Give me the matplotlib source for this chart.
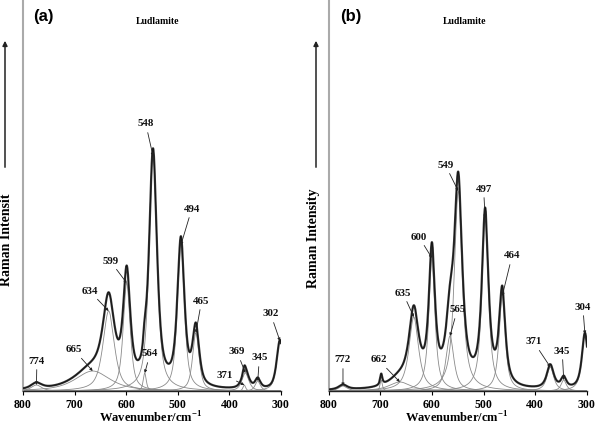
import numpy as np
import matplotlib
matplotlib.use("Agg")
import matplotlib.pyplot as plt

plt.rcParams['font.family'] = ['Liberation Serif', 'DejaVu Serif']
plt.rcParams['mathtext.fontset'] = 'custom'
plt.rcParams['mathtext.rm'] = 'Liberation Serif:bold'
plt.rcParams['mathtext.bf'] = 'Liberation Serif:bold'

# ---------------- data (band parameters) ----------------
# panel (a)
a_centers = [774, 665, 634, 599, 564, 548, 494, 465, 371, 369, 345, 302]
a_heights = [6, 20, 80, 108, 18, 235, 146, 58, 6, 18, 10, 50]
a_widths = [12, 40, 13, 8, 3.5, 9, 8, 7.5, 3, 8, 6, 7.5]
a_labels = ["774", "665", "634", "599", "564", "548", "494", "465", "371", "369", "345", "302"]
a_eta = 0.7

# panel (b)
b_centers = [772, 698, 662, 635, 600, 565, 549, 497, 464, 371, 345, 304]
b_heights = [5, 11, 9, 74, 133, 55, 200, 173, 95, 24, 11, 57]
b_widths = [10, 2.5, 25, 11, 7, 9, 9, 7.5, 7, 8, 6, 7]
b_labels = ["772", None, "662", "635", "600", "565", "549", "497", "464", "371", "345", "304"]
b_eta = 0.85

x_ticks = [800, 700, 600, 500, 400, 300]
title = "Ludlamite"

# label text positions (layout only)
a_text_pos = [(773, 30), (701, 41), (671, 100), (631, 130), (554, 37), (562, 267),
              (473, 182), (454, 90), (410, 16), (385, 39), (342, 33), (320, 77)]
b_text_pos = [(772, 31), None, (703, 31), (656, 98), (625, 154), (551, 81), (574, 226),
              (500, 202), (445, 135), (403, 49), (348, 40), (308, 84)]


def band(x, c, h, w, eta):
    lor = 1.0 / (1.0 + ((x - c) / w) ** 2)
    gau = np.exp(-np.log(2) * ((x - c) / w) ** 2)
    return h * (eta * lor + (1 - eta) * gau)


W, H = 597, 426
fig = plt.figure(figsize=(W / 100, H / 100), dpi=100)

x = np.linspace(300, 800, 2001)


def draw(ax_box, centers, heights, widths, eta, labels, text_pos):
    ax = fig.add_axes(ax_box)
    total = np.zeros_like(x)
    for c, h, w in zip(centers, heights, widths):
        comp = band(x, c, h, w, eta)
        total += comp
        ax.plot(x, comp, color='#8a8a8a', lw=0.6, zorder=2)
    ax.plot(x, total, color='#3a3a3a', lw=1.6, zorder=3)
    ax.plot(x, total, color='#111111', lw=0.6, zorder=4)
    for c, h, lab, tp in zip(centers, heights, labels, text_pos):
        if lab is None:
            continue
        ax.annotate(lab, xy=(c, h), xytext=tp, ha='center', va='center',
                    fontsize=7.8, fontweight='bold', color='#111111',
                    arrowprops=dict(arrowstyle='-|>', lw=0.6, color='#222222',
                                    mutation_scale=4, shrinkA=1, shrinkB=0),
                    zorder=5)
    ax.set_xlim(800, 300)
    ax.set_ylim(0, 391)
    ax.set_xticks(x_ticks)
    ax.set_xticklabels([str(t) for t in x_ticks], fontsize=8.5, fontweight='bold')
    ax.set_yticks([])
    ax.tick_params(axis='x', direction='out', length=3, width=0.8, pad=2.5)
    for s in ['top', 'right']:
        ax.spines[s].set_visible(False)
    ax.spines['left'].set_color('#aaaaaa')
    ax.spines['left'].set_linewidth(1.5)
    ax.spines['bottom'].set_color('#222222')
    ax.spines['bottom'].set_linewidth(1.0)
    ax.patch.set_alpha(0)
    return ax


ax_a = draw([23 / W, 35 / H, 258 / W, 391 / H], a_centers, a_heights, a_widths, a_eta,
            a_labels, a_text_pos)
ax_b = draw([328.5 / W, 35 / H, 258.5 / W, 391 / H], b_centers, b_heights, b_widths, b_eta,
            b_labels, b_text_pos)

xlabel = r'Wavenumber/cm$^{\mathbf{-1}}$'
for cx in (151 / W, 457 / W):
    fig.text(cx, 1 - 418 / H, xlabel, ha='center', va='center', fontsize=9, fontweight='bold')

for cx in (158 / W, 465 / W):
    fig.text(cx, 1 - 22 / H, title, ha='center', va='center', fontsize=7, fontweight='bold')

fig.text(43 / W, 1 - 17 / H, "(a)", ha='center', va='center', fontsize=12, fontweight='bold',
         family=['Liberation Sans', 'DejaVu Sans'])
fig.text(351 / W, 1 - 17 / H, "(b)", ha='center', va='center', fontsize=12, fontweight='bold',
         family=['Liberation Sans', 'DejaVu Sans'])

fig.text(7 / W, 1 - 240 / H, "Raman Intensit", rotation=90, ha='center', va='center',
         fontsize=10, fontweight='bold')
fig.text(314 / W, 1 - 238 / H, "Raman Intensity", rotation=90, ha='center', va='center',
         fontsize=10, fontweight='bold')

for ax_x in (5 / W, 316 / W):
    fig.add_artist(matplotlib.patches.FancyArrowPatch(
        (ax_x, 1 - 170 / H), (ax_x, 1 - 38 / H), transform=fig.transFigure,
        arrowstyle='-|>', mutation_scale=7, lw=1.1, color='#222222'))

fig.savefig("out.png", dpi=100)
